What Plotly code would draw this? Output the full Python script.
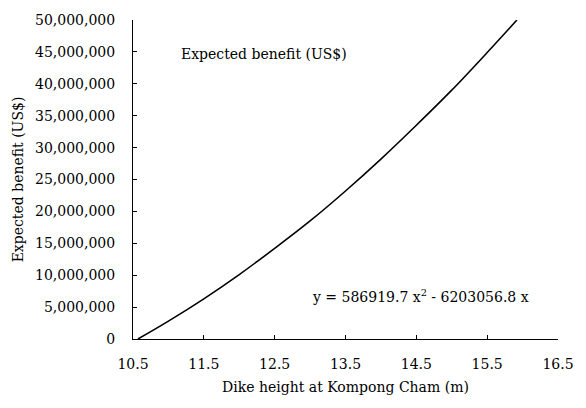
import plotly.graph_objects as go

# Dike height (m) and expected benefit (US$)
dike_height = [10.57, 11.0, 11.5, 12.0, 12.5, 13.0, 13.5, 14.0, 14.5, 15.0, 15.5, 15.92]
expected_benefit = [0, 2.8e6, 6.3e6, 10.1e6, 14.2e6, 18.5e6, 23.2e6, 28.2e6, 33.5e6, 39.0e6, 44.9e6, 50.0e6]

x_ticks = [10.5, 11.5, 12.5, 13.5, 14.5, 15.5, 16.5]
y_ticks = [0, 5e6, 10e6, 15e6, 20e6, 25e6, 30e6, 35e6, 40e6, 45e6, 50e6]
y_tick_text = ["0" if v == 0 else f"{int(v):,}" for v in y_ticks]

FONT = "DejaVu Serif"

fig = go.Figure()
fig.add_trace(go.Scatter(
    x=dike_height, y=expected_benefit, mode="lines",
    line=dict(color="black", width=1.6, shape="spline"),
    showlegend=False, hoverinfo="skip",
))

fig.update_layout(
    width=586, height=408,
    margin=dict(l=133, r=25, t=17, b=69),
    paper_bgcolor="white", plot_bgcolor="white",
    font=dict(family=FONT, size=14, color="black"),
    xaxis=dict(
        range=[10.5, 16.5], tickvals=x_ticks, ticktext=[str(v) for v in x_ticks],
        ticks="inside", ticklen=4, tickcolor="black", tickwidth=1,
        ticklabelstandoff=12,
        showline=True, linecolor="black", linewidth=1, showgrid=False, zeroline=False,
        title=dict(text="Dike height at Kompong Cham (m)", standoff=11,
                   font=dict(family=FONT, size=14)),
        tickfont=dict(family=FONT, size=14),
    ),
    yaxis=dict(
        range=[0, 50e6], tickvals=y_ticks, ticktext=y_tick_text,
        ticks="inside", ticklen=4, tickcolor="black", tickwidth=1,
        ticklabelstandoff=14,
        showline=True, linecolor="black", linewidth=1, showgrid=False, zeroline=False,
        title=dict(text="Expected benefit (US$)", standoff=8,
                   font=dict(family=FONT, size=14)),
        tickfont=dict(family=FONT, size=14),
    ),
    annotations=[
        dict(x=11.15, y=44.6e6, xref="x", yref="y", text="Expected benefit (US$)",
             showarrow=False, xanchor="left", yanchor="middle",
             font=dict(family=FONT, size=14)),
        dict(x=13.0, y=6.7e6, xref="x", yref="y",
             text="y = 586919.7 x<sup>2</sup> - 6203056.8 x",
             showarrow=False, xanchor="left", yanchor="middle",
             font=dict(family=FONT, size=14)),
    ],
)

fig.write_html("out.html")
